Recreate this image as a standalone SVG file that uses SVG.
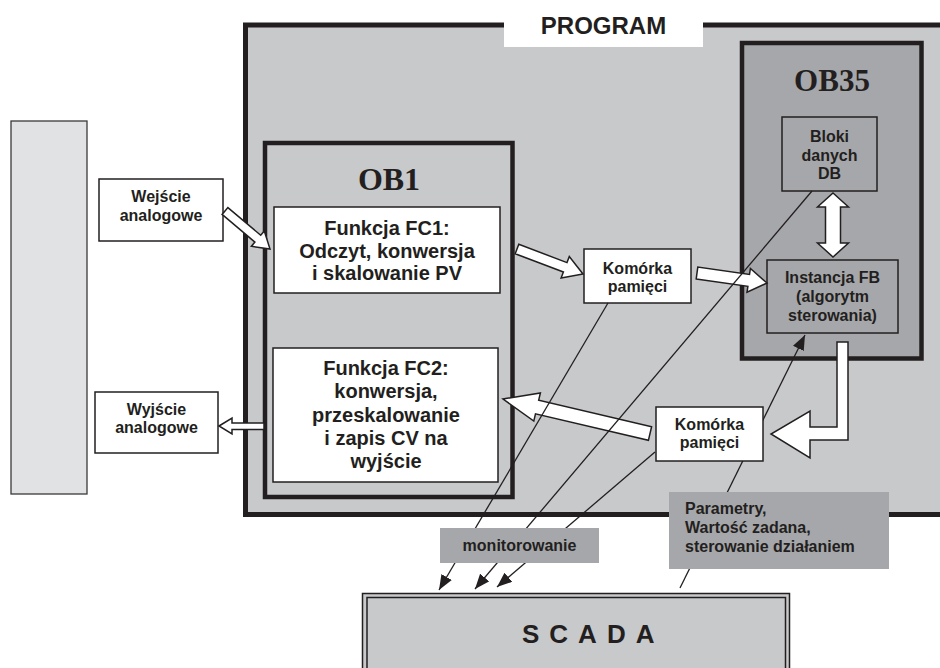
<svg xmlns="http://www.w3.org/2000/svg" width="940" height="668" viewBox="0 0 940 668">
<defs>
<style>
.t{font-family:"Liberation Sans",Arial,sans-serif;font-weight:bold;fill:#231f20;text-anchor:middle}
.s16{font-size:16px}
.s20{font-size:20px}
.serif{font-family:"Liberation Serif","Times New Roman",serif;font-weight:bold;fill:#231f20;text-anchor:middle}
.box{fill:#fff;stroke:#231f20;stroke-width:1.5}
.dbox{fill:#a6a7aa;stroke:#231f20;stroke-width:1.5}
.thick{stroke:#231f20;stroke-width:5}
.harrow{fill:#fff;stroke:#231f20;stroke-width:1.5;stroke-linejoin:miter}
.ln{stroke:#231f20;stroke-width:1.3;fill:none}
.lab{fill:#a6a7aa}
</style>
<marker id="ah" markerUnits="userSpaceOnUse" markerWidth="16" markerHeight="12" refX="15" refY="6" orient="auto">
<path d="M0,0 L15,6 L0,12 z" fill="#231f20"/>
</marker>
</defs>
<rect width="940" height="668" fill="#fff"/>

<g id="io-module">
<rect x="11" y="121" width="76" height="373" fill="#e1e2e4" stroke="#3a3a3a" stroke-width="1.3"/>
</g>

<g id="program">
<rect x="245.5" y="25" width="710" height="489.5" fill="#c8c9cb" class="thick"/>
<rect x="504" y="0" width="199" height="47" fill="#fff"/>
<text class="t" x="603.5" y="34" font-size="24">PROGRAM</text>
</g>

<g id="ob1">
<rect x="265" y="143" width="247.5" height="354" fill="#c8c9cb" stroke="#231f20" stroke-width="4.5"/>
<text class="serif" x="389" y="190" font-size="32">OB1</text>
</g>

<g id="ob35">
<rect x="742" y="43" width="179.5" height="315.5" fill="#a6a7aa" stroke="#231f20" stroke-width="4.5"/>
<text class="serif" x="832" y="91" font-size="31">OB35</text>
</g>

<g id="wejscie">
<rect class="box" x="99" y="179" width="124" height="62"/>
<text class="t s16" x="161" y="202">Wejście</text>
<text class="t s16" x="161" y="221">analogowe</text>
</g>

<g id="wyjscie">
<rect class="box" x="95" y="392" width="123" height="61"/>
<text class="t s16" x="156.5" y="415">Wyjście</text>
<text class="t s16" x="156.5" y="433">analogowe</text>
</g>

<g id="fc1">
<rect class="box" x="274" y="207" width="226" height="86"/>
<text class="t s20" x="387" y="235">Funkcja FC1:</text>
<text class="t s20" x="387" y="257.5">Odczyt, konwersja</text>
<text class="t s20" x="387" y="280">i skalowanie PV</text>
</g>

<g id="fc2">
<rect class="box" x="273" y="348" width="225" height="134"/>
<text class="t s20" x="386" y="375">Funkcja FC2:</text>
<text class="t s20" x="386" y="398">konwersja,</text>
<text class="t s20" x="386" y="422">przeskalowanie</text>
<text class="t s20" x="386" y="445">i zapis CV na</text>
<text class="t s20" x="386" y="468">wyjście</text>
</g>

<g id="komorka1">
<rect class="box" x="584" y="249" width="107" height="54"/>
<text class="t s16" x="637.5" y="274">Komórka</text>
<text class="t s16" x="637.5" y="292">pamięci</text>
</g>

<g id="bloki">
<rect class="dbox" x="782" y="117" width="95" height="74"/>
<text class="t s16" x="829.5" y="142">Bloki</text>
<text class="t s16" x="829.5" y="161">danych</text>
<text class="t s16" x="829.5" y="179">DB</text>
</g>

<g id="instancja">
<rect class="dbox" x="767" y="260" width="131" height="73"/>
<text class="t s16" x="832.5" y="283">Instancja FB</text>
<text class="t s16" x="832.5" y="302">(algorytm</text>
<text class="t s16" x="832.5" y="321">sterowania)</text>
</g>

<g id="scada">
<rect x="362.5" y="593.5" width="427" height="90" fill="#c8c9cb" stroke="#231f20" stroke-width="1.5"/>
<rect x="367" y="597.5" width="418.5" height="90" fill="none" stroke="#231f20" stroke-width="1.5"/>
<text x="522" y="643" font-family="'Liberation Sans',Arial,sans-serif" font-weight="bold" font-size="26" letter-spacing="10" fill="#231f20">SCADA</text>
</g>

<g id="connectors">
<polygon class="harrow" points="222.1,214.4 254.9,242.1 251.4,246.3 270,249 264.3,231.1 260.7,235.3 227.9,207.6"/>
<polygon class="harrow" points="515.2,253.7 563.4,272 561.1,278.1 583,274 569.3,256.5 567,262.6 518.8,244.3"/>
<polygon class="harrow" points="696.2,278.9 747.9,286.3 747,292.3 767,283 750.4,268.5 749.5,274.5 697.8,267.1"/>
<polygon class="harrow" points="833,193 848.5,207 840.5,207 840.5,243 848.5,243 833,257 817.5,243 825.5,243 825.5,207 817.5,207"/>
<polygon class="harrow" points="837,342 848,342 848,440 810,440 810,458 771,434 810,411 810,427 837,427"/>
<polygon class="harrow" points="651.6,426.7 538.7,400.2 540.4,392.9 503,399 533.8,421.1 535.5,413.8 648.4,440.3"/>
<polygon class="harrow" points="219,426 232,418 232,423 264,423 264,429.5 232,429.5 232,434"/>
<line class="ln" x1="608" y1="303" x2="439" y2="590" marker-end="url(#ah)"/>
<line class="ln" x1="812" y1="191" x2="475" y2="589" marker-end="url(#ah)"/>
<line class="ln" x1="655" y1="452" x2="497" y2="587" marker-end="url(#ah)"/>
<line class="ln" x1="680" y1="588" x2="805" y2="335" marker-end="url(#ah)"/>
</g>

<g id="komorka2">
<rect class="box" x="656" y="407" width="107" height="54"/>
<text class="t s16" x="709.5" y="430">Komórka</text>
<text class="t s16" x="709.5" y="448">pamięci</text>
</g>

<g id="monitorowanie">
<rect class="lab" x="440" y="528" width="159" height="35"/>
<text class="t s16" x="519.5" y="551">monitorowanie</text>
</g>

<g id="parametry">
<rect class="lab" x="669" y="492" width="220" height="77"/>
<text class="t s16" x="685" y="514" text-anchor="start" style="text-anchor:start">Parametry,</text>
<text class="t s16" x="685" y="533" style="text-anchor:start">Wartość zadana,</text>
<text class="t s16" x="685" y="552" style="text-anchor:start">sterowanie działaniem</text>
</g>
</svg>
